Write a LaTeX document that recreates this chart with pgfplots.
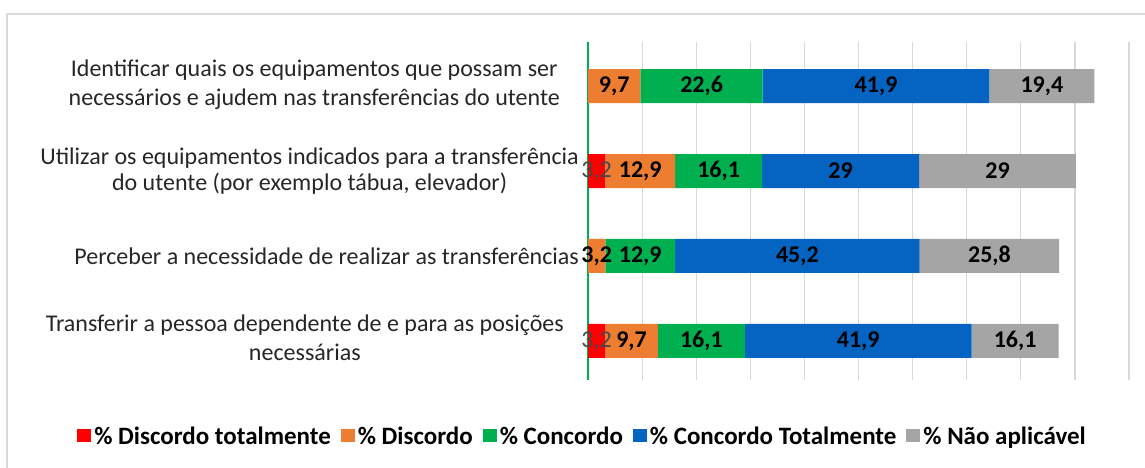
\documentclass[border=0pt]{standalone}
\usepackage{pgfplots}
\pgfplotsset{compat=1.18}
\usepackage{fontspec}
\setmainfont{Carlito}
\definecolor{cRed}{HTML}{FF0000}
\definecolor{cOrange}{HTML}{ED7D31}
\definecolor{cGreen}{HTML}{00B050}
\definecolor{cBlue}{HTML}{0563C1}
\definecolor{cGray}{HTML}{A5A5A5}
\definecolor{cGrid}{HTML}{D9D9D9}
\definecolor{cText}{HTML}{262626}
\begin{document}
\begin{tikzpicture}[x=1pt,y=1pt]
\useasboundingbox (0,0) rectangle (1145,468);
\draw[cGrid, line width=1.2pt] (7,-5) -- (7,454) -- (1150,454);
\begin{axis}[
  at={(588pt,88pt)}, anchor=south west,
  scale only axis, width=541pt, height=338pt,
  xbar stacked, bar width=34pt,
  xmin=0, xmax=100, ymin=-0.459, ymax=3.518,
  clip=false,
  axis lines*=left,
  axis line style={-},
  x axis line style={draw=none},
  y axis line style={draw=cGreen, line width=1.2pt},
  xmajorgrids, grid style={draw=cGrid, line width=1.2pt},
  xtick={0,10,...,100}, xticklabels={},
  major tick length=0pt,
  ytick={0,1,2,3},
  yticklabels={{\begin{tabular}{@{}c@{\hspace{15pt}}}Transferir a pessoa dependente de e para as posições\\[3pt]necessárias\end{tabular}},
               {Perceber a necessidade de realizar as transferências},
               {Utilizar os equipamentos indicados para a transferência\\do utente (por exemplo tábua, elevador)},
               {\begin{tabular}{@{}c@{\hspace{19pt}}}Identificar quais os equipamentos que possam ser\\[3pt]necessários e ajudem nas transferências do utente\end{tabular}}},
  yticklabel style={align=center, text=cText, font=\fontsize{24}{26}\selectfont, inner sep=0pt, xshift=-9pt},
  /pgf/number format/use comma,
  /pgf/number format/assume math mode=true,
  nodes near coords={\pgfmathfloatifflags{\pgfplotspointmeta}{0}{}{\pgfmathprintnumber{\pgfplotspointmeta}}},
  every node near coord/.append style={font=\bfseries\fontsize{24}{26}\selectfont, text=black},
  legend columns=-1,
  legend style={draw=none, at={(-0.010,-0.166)}, anchor=center,
    font=\bfseries\fontsize{25}{27}\selectfont,
    /tikz/every odd column/.append style={column sep=1pt},
    /tikz/every even column/.append style={column sep=8pt}},
  legend image code/.code={\fill[#1,draw=none] (0pt,-6pt) rectangle (14pt,7pt);},
]
\addplot[fill=cRed, draw=none, every node near coord/.append style={font=\fontsize{24}{26}\selectfont, text=black!72}]
  coordinates {(3.2,0) (0,1) (3.2,2) (0,3)};
\addplot[fill=cOrange, draw=none] coordinates {(9.7,0) (3.2,1) (12.9,2) (9.7,3)};
\addplot[fill=cGreen, draw=none] coordinates {(16.1,0) (12.9,1) (16.1,2) (22.6,3)};
\addplot[fill=cBlue, draw=none] coordinates {(41.9,0) (45.2,1) (29,2) (41.9,3)};
\addplot[fill=cGray, draw=none] coordinates {(16.1,0) (25.8,1) (29,2) (19.4,3)};
\legend{\% Discordo totalmente, \% Discordo, \% Concordo, \% Concordo Totalmente, \% Não aplicável}
\end{axis}
\end{tikzpicture}
\end{document}
